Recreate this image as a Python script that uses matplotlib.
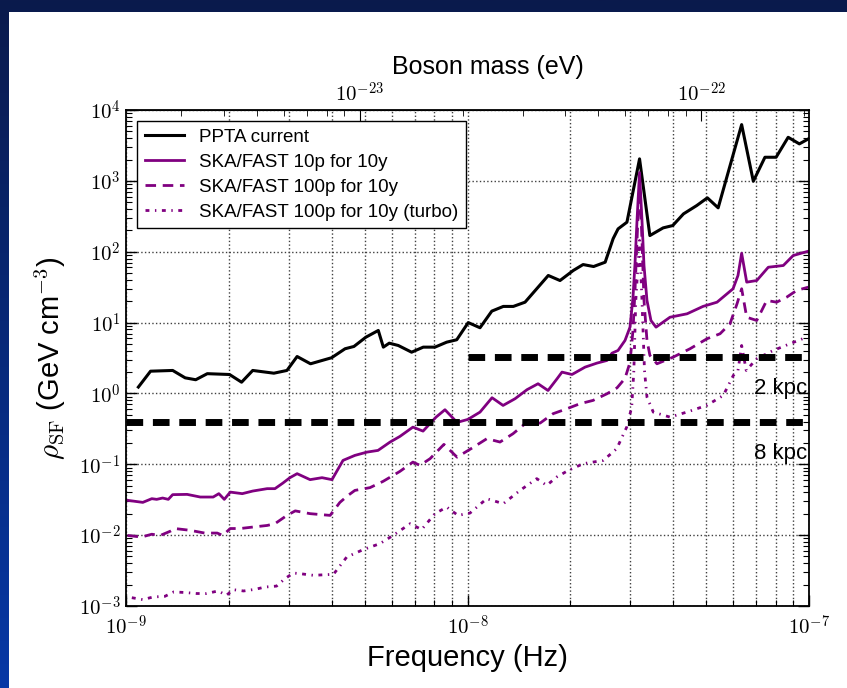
import numpy as np
import matplotlib
matplotlib.use('Agg')
import matplotlib.pyplot as plt
from matplotlib.patches import Rectangle
from matplotlib.colors import LinearSegmentedColormap
from matplotlib.ticker import FuncFormatter, FixedLocator, LogLocator, NullFormatter

plt.rcParams['font.family'] = ['Liberation Sans', 'DejaVu Sans']
plt.rcParams['mathtext.fontset'] = 'cm'

# PPTA current limit (frequency in nHz, rho in GeV/cm^3)
ppta_f = [1.087, 1.18, 1.37, 1.49, 1.60, 1.73, 2.01, 2.18, 2.35, 2.71,
          2.96, 3.17, 3.47, 4.00, 4.38, 4.65, 5.04, 5.48, 5.67, 5.90,
          6.27, 6.86, 7.42, 8.03, 8.69, 9.30, 10.05, 10.88, 11.78, 12.73,
          13.62, 14.74, 17.24, 18.66, 20.4, 21.8, 23.4, 25.3, 26.7, 27.6,
          29.3, 31.9, 34.2, 37.4, 39.9, 42.9, 46.9, 50.4, 54.2, 63.5,
          68.7, 74.3, 80.1, 86.9, 93.7, 100.0]
ppta_rho = [1.23, 2.06, 2.11, 1.66, 1.56, 1.90, 1.85, 1.44, 2.11, 1.93,
            2.11, 3.32, 2.62, 3.19, 4.27, 4.60, 6.22, 7.74, 4.50, 5.12,
            4.75, 3.82, 4.50, 4.50, 5.29, 5.72, 10.0, 8.45, 14.5, 16.9,
            16.9, 19.4, 46.2, 39.2, 54.3, 65.9, 61.8, 71.1, 153, 210,
            261, 2043, 169, 217, 234, 342, 448, 576, 416, 6224,
            987, 2153, 2153, 4121, 3325, 3954]

# SKA/FAST 10 pulsars, 10 years
ska10_f = [1.01, 1.12, 1.19, 1.23, 1.28, 1.33, 1.37, 1.51, 1.65, 1.80,
           1.87, 1.94, 2.02, 2.19, 2.35, 2.59, 2.73, 2.88, 3.02, 3.17,
           3.46, 3.75, 4.01, 4.32, 4.68, 5.08, 5.47, 5.93, 6.34, 6.92,
           7.41, 8.09, 8.59, 9.32, 10.03, 10.88, 11.80, 12.71, 13.78, 14.94,
           16.09, 17.21, 18.29, 18.91, 20.23, 22.09, 23.94, 25.62, 26.49, 27.59,
           28.92, 29.91, 30.52, 30.94, 31.36, 31.90, 32.43, 32.87, 33.54, 34.45,
           35.65, 39.17, 43.95, 48.93, 53.79, 59.92, 61.95, 63.5, 65.7, 70.3,
           76.0, 84.1, 89.9, 99.5]
ska10_rho = [0.0310, 0.0290, 0.0327, 0.0320, 0.0334, 0.0320, 0.0373, 0.0376, 0.0345, 0.0345,
             0.0385, 0.0320, 0.0405, 0.0385, 0.0419, 0.0453, 0.0453, 0.0543, 0.0647, 0.0737,
             0.0607, 0.0647, 0.0607, 0.1135, 0.1335, 0.1486, 0.157, 0.2056, 0.2474, 0.3346,
             0.2939, 0.4632, 0.589, 0.390, 0.430, 0.545, 0.870, 0.677, 0.842, 1.13,
             1.37, 1.10, 1.61, 2.00, 1.85, 2.35, 2.68, 2.92, 3.70, 4.04,
             5.59, 8.61, 22.6, 68.2, 275, 1309, 275, 63.9, 20.5, 10.7,
             8.61, 11.9, 13.3, 16.9, 19.4, 30.0, 46.2, 95.2, 37.2, 39.2,
             60.4, 63.9, 88.4, 101.6]

# SKA/FAST 100 pulsars, 10 years
ska100_f = [1.01, 1.11, 1.19, 1.26, 1.35, 1.39, 1.54, 1.70, 1.85, 1.92,
            2.02, 2.16, 2.35, 2.59, 2.73, 2.96, 3.13, 3.46, 3.96, 4.23,
            4.47, 4.68, 5.18, 5.66, 6.34, 6.92, 7.26, 7.77, 8.53, 9.32,
            10.24, 11.40, 12.45, 13.59, 14.94, 16.31, 17.80, 19.56, 21.35, 23.31,
            25.62, 27.41, 28.92, 29.91, 30.52, 30.94, 31.36, 31.90, 32.43, 32.87,
            33.54, 34.21, 35.88, 39.99, 44.83, 50.27, 54.89, 58.7, 61.55, 63.5,
            65.7, 70.3, 75.2, 80.4, 86.0, 92.0, 99.5]
ska100_rho = [0.0099, 0.0094, 0.0103, 0.0099, 0.0114, 0.0124, 0.0117, 0.0107, 0.0107, 0.0099,
              0.0124, 0.0124, 0.0130, 0.0137, 0.0145, 0.0190, 0.0220, 0.0201, 0.0190, 0.0290,
              0.0364, 0.0428, 0.0468, 0.0574, 0.0794, 0.1074, 0.0965, 0.120, 0.191, 0.126,
              0.166, 0.230, 0.206, 0.270, 0.394, 0.381, 0.517, 0.609, 0.716, 0.797,
              0.99, 1.20, 1.63, 2.74, 7.74, 28.4, 144, 1010, 144, 20.5,
              5.59, 3.44, 2.62, 3.25, 4.27, 5.91, 6.95, 9.62, 18.4, 30.0,
              11.9, 10.7, 20.5, 19.4, 22.8, 28.4, 31.6]

# SKA/FAST 100 pulsars, 10 years (turbo)
turbo_f = [1.04, 1.12, 1.20, 1.30, 1.38, 1.49, 1.61, 1.72, 1.86, 1.97,
           2.06, 2.21, 2.39, 2.55, 2.76, 2.92, 3.09, 3.23, 3.54, 4.05,
           4.43, 4.95, 5.54, 6.06, 6.79, 7.34, 8.03, 8.69, 9.38, 10.17,
           11.38, 12.73, 14.25, 15.95, 17.06, 18.24, 19.74, 21.83, 24.99, 27.35,
           29.26, 30.26, 30.7, 31.1, 31.9, 32.43, 32.98, 33.54, 34.99, 39.17,
           43.85, 50.17, 56.11, 60.02, 61.95, 63.5, 65.5, 70.3, 78.6, 87.9,
           98.4]
turbo_rho = [0.00131, 0.00123, 0.00134, 0.00137, 0.00158, 0.00155, 0.00150, 0.00150, 0.00163, 0.00142,
             0.00170, 0.00163, 0.00172, 0.00185, 0.00191, 0.00243, 0.00292, 0.00286, 0.00271, 0.00280,
             0.00491, 0.00625, 0.00759, 0.00993, 0.0145, 0.0120, 0.0201, 0.0249, 0.0190, 0.0205,
             0.0327, 0.0278, 0.0428, 0.0627, 0.0504, 0.0660, 0.0820, 0.102, 0.1135, 0.166,
             0.335, 0.641, 2.11, 20.5, 144, 20.5, 2.11, 0.887, 0.545, 0.463,
             0.545, 0.677, 0.937, 1.79, 2.11, 4.75, 2.11, 3.09, 4.04, 5.02,
             6.22]

# local dark matter density at two galactocentric distances
halo_labels = ['2 kpc', '8 kpc']
halo_rho = [3.3, 0.40]
halo_fmin = [1e-8, 1e-9]

# boson mass m = h f / 2, in eV per Hz
ev_per_hz = 2.0678e-15

fig = plt.figure(figsize=(8.47, 6.88), dpi=100)

# slide background: blue gradient with a white panel
bg = fig.add_axes([0, 0, 1, 1], zorder=-1)
bg.axis('off')
grad_cmap = LinearSegmentedColormap.from_list('slide', ['#0a1a4c', '#0638a6'])
bg.imshow(np.linspace(0, 1, 256).reshape(-1, 1), cmap=grad_cmap, aspect='auto',
          extent=[0, 1, 0, 1], origin='upper')
bg.add_patch(Rectangle((9 / 847, 0), 1, 676 / 688, facecolor='white', edgecolor='none'))
bg.set_xlim(0, 1)
bg.set_ylim(0, 1)

ax = fig.add_axes([126 / 847, 82 / 688, 683 / 847, 496 / 688])
ax.set_facecolor('white')

hz = lambda v: np.array(v) * 1e-9
ax.plot(hz(ppta_f), ppta_rho, color='black', lw=2.2, label='PPTA current')
ax.plot(hz(ska10_f), ska10_rho, color='purple', lw=2, label='SKA/FAST 10p for 10y')
ax.plot(hz(ska100_f), ska100_rho, color='purple', lw=2, dashes=(3.8, 2.4),
        label='SKA/FAST 100p for 10y')
ax.plot(hz(turbo_f), turbo_rho, color='purple', lw=2, dashes=(1.4, 2.0, 0.5, 2.0),
        label='SKA/FAST 100p for 10y (turbo)')

for lab, rho, fmin in zip(halo_labels, halo_rho, halo_fmin):
    ax.plot([fmin, 1e-7], [rho, rho], color='black', lw=5, dashes=(2.4, 1.4), zorder=5)
    ax.text(0.99e-7, rho * 0.36, lab, ha='right', va='center', fontsize=16)

ax.set_xscale('log')
ax.set_yscale('log')
ax.set_xlim(1e-9, 1e-7)
ax.set_ylim(1e-3, 1e4)

pow_fmt = FuncFormatter(lambda v, p: r'$10^{%d}$' % int(round(np.log10(v))))
ax.xaxis.set_major_locator(FixedLocator([1e-9, 1e-8, 1e-7]))
ax.yaxis.set_major_locator(FixedLocator(10.0 ** np.arange(-3, 5)))
ax.xaxis.set_major_formatter(pow_fmt)
ax.yaxis.set_major_formatter(pow_fmt)
ax.yaxis.set_minor_locator(LogLocator(base=10, subs=np.arange(2, 10), numticks=20))
ax.yaxis.set_minor_formatter(NullFormatter())
ax.xaxis.set_minor_formatter(NullFormatter())

ax.tick_params(which='both', direction='in', top=False, right=True, labelsize=15)
ax.tick_params(which='major', length=8, width=1)
ax.tick_params(which='minor', length=4, width=0.8)
ax.tick_params(axis='x', pad=6)
ax.tick_params(axis='y', pad=4)

ax.grid(True, which='major', axis='both', linestyle=':', color='0.25', lw=1)
ax.grid(True, which='minor', axis='x', linestyle=':', color='0.25', lw=1)
for s in ax.spines.values():
    s.set_linewidth(1.3)

ax.set_xlabel('Frequency (Hz)', fontsize=21, labelpad=4)
ax.set_ylabel(r'$\rho_{\rm SF}$ (GeV cm$^{-3}$)', fontsize=21, labelpad=8)

sec = ax.secondary_xaxis('top', functions=(lambda f: f * ev_per_hz,
                                           lambda m: m / ev_per_hz))
sec.xaxis.set_major_locator(FixedLocator([1e-23, 1e-22]))
sec.xaxis.set_major_formatter(pow_fmt)
sec.xaxis.set_minor_formatter(NullFormatter())
sec.tick_params(which='both', direction='in', labelsize=15)
sec.tick_params(which='major', length=8, pad=3)
sec.tick_params(which='minor', length=4)
# top axis title sits a little right of centre
fig.text(488 / 847, 1 - 67 / 688, 'Boson mass (eV)', ha='center', va='center', fontsize=18)

leg = ax.legend(loc='upper left', fontsize=13.5, frameon=True, fancybox=False,
                edgecolor='black', framealpha=1, handlelength=2.1,
                borderaxespad=0.6, labelspacing=0.42)
leg.get_frame().set_linewidth(1)

fig.savefig('out.png', dpi=100)
